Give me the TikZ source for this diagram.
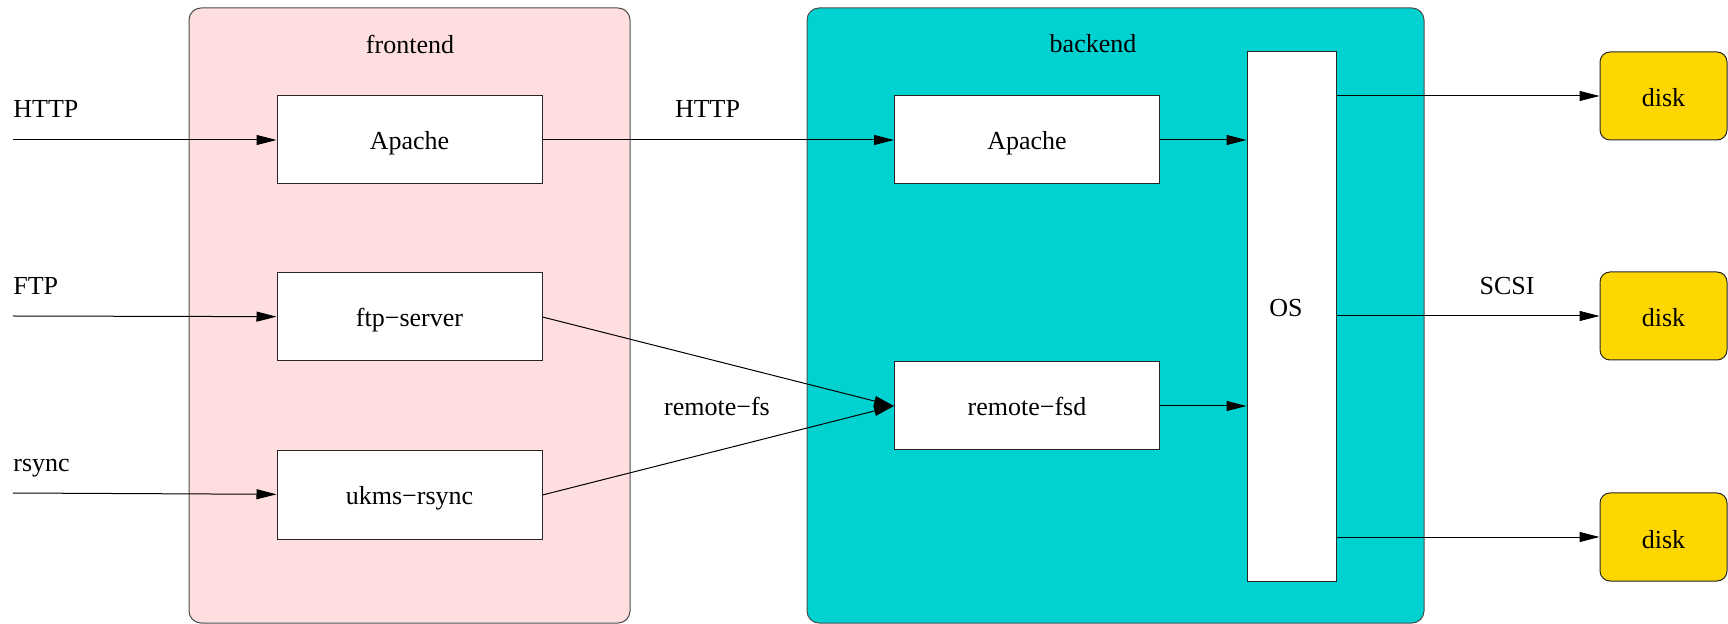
\documentclass[tikz,border=0pt]{standalone}
\usepackage{fontspec}
\setmainfont{Liberation Serif}
\usetikzlibrary{arrows.meta,positioning}

\definecolor{fepink}{RGB}{255,222,224}
\definecolor{becyan}{RGB}{0,209,209}
\definecolor{diskgold}{RGB}{255,215,0}

\begin{document}
\begin{tikzpicture}[
  x=0.5pt, y=-0.5pt,
  every node/.style={font=\fontsize{13}{15}\selectfont},
  tier/.style={draw=black!70, line width=0.5pt, rounded corners=6pt},
  box/.style={draw=black!85, fill=white, line width=0.5pt, inner sep=0pt, minimum width=132.5pt, minimum height=44pt, text height=11pt, text depth=1pt},
  disk/.style={draw=black!85, fill=diskgold, line width=0.5pt, rounded corners=5pt, inner sep=0pt, minimum width=63.5pt, minimum height=44pt, text height=11pt, text depth=0pt},
  proto/.style={anchor=base west, inner sep=0pt},
  arrow/.style={-{Triangle[length=10pt,width=5pt]}, line width=0.5pt, draw=black},
  node distance=44pt
]
\useasboundingbox (0,0) rectangle (1728,624);

% the two tiers
\draw[tier, fill=fepink] (189,8) rectangle (630,623);
\draw[tier, fill=becyan] (807,8) rectangle (1424,623);
\node (felabel) at (410,44) {frontend};
\node (belabel) at (1093,44) {backend};

% frontend services
\node[box] (fapache) at (409.5,140) {Apache};
\node[box, below=of fapache] (fftp) {ftp−server};
\node[box, below=44.5pt of fftp] (frsync) {ukms−rsync};

% backend services
\node[box] (bapache) at (1027,140) {Apache};
\node[box, below=88.5pt of bapache] (rfsd) {remote−fsd};
\node[box, minimum width=44.5pt, minimum height=264.5pt] (os) at (1291.5,316.5) {};
\node[anchor=base] (ostext) at (1286,317) {OS};

% disks
\node[disk] (disk1) at (1663.5,96) {disk};
\node[disk] (disk2) at (1663.5,316) {disk};
\node[disk] (disk3) at (1663.5,537) {disk};

% incoming protocols
\coordinate (inhttp) at (13,140);
\coordinate (inftp) at (13,316);
\coordinate (inrsync) at (13,493);
\node[proto] (lhttp) at (13,118) {HTTP};
\node[proto] (lftp) at (13,295) {FTP};
\node[proto] (lrsync) at (13,472) {rsync};
\draw[arrow] (inhttp) -- (fapache);
\draw[arrow] (inftp) -- (fftp);
\draw[arrow] (inrsync) -- (frsync);

% frontend to backend
\draw[arrow] (fapache) -- (bapache);
\draw[arrow] (fftp.east) -- (rfsd.west);
\draw[arrow] (frsync.east) -- (rfsd.west);
\node[anchor=base] (lhttp2) at (707.5,118) {HTTP};
\node[anchor=base] (lremote) at (717,416) {remote−fs};

% into the OS and out to the disks
\draw[arrow] (bapache.east) -- (bapache.east -| os.west);
\draw[arrow] (rfsd.east) -- (rfsd.east -| os.west);
\draw[arrow] (os.east |- disk1.west) -- (disk1.west);
\draw[arrow] (os.east |- disk2.west) -- (disk2.west);
\draw[arrow] (os.east |- disk3.west) -- (disk3.west);
\node[anchor=base] (lscsi) at (1507,295) {SCSI};
\end{tikzpicture}
\end{document}
